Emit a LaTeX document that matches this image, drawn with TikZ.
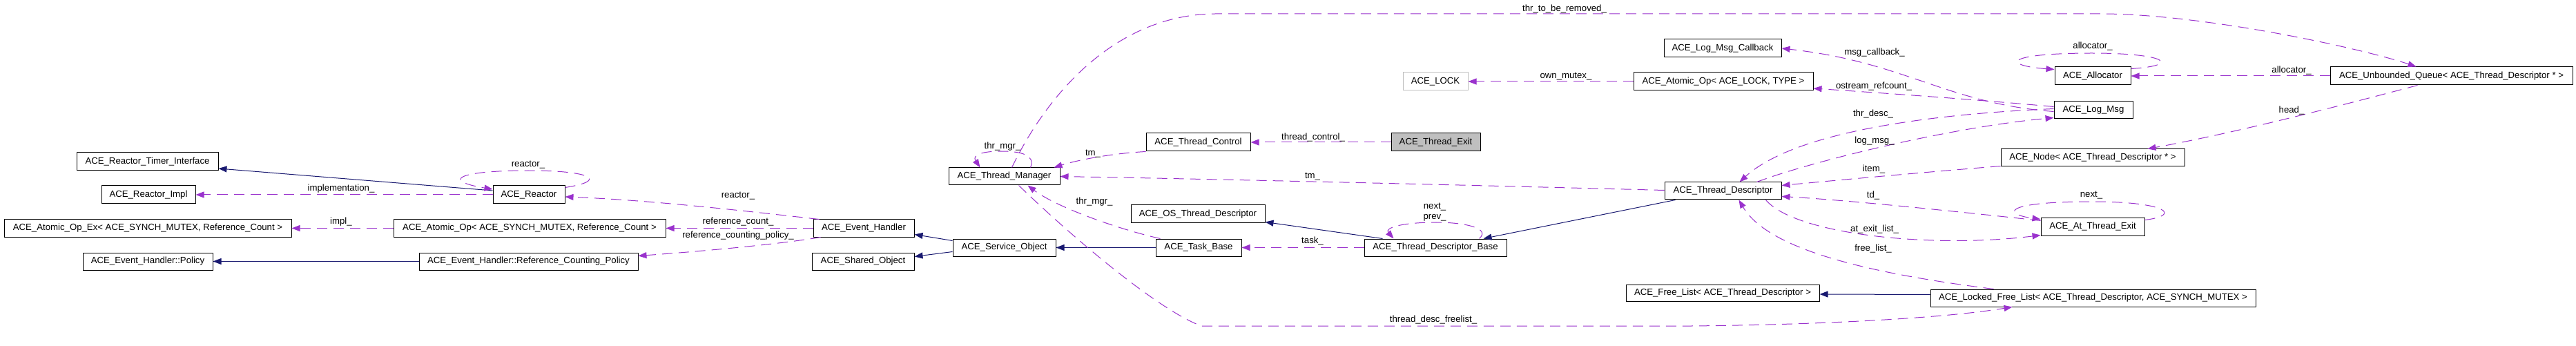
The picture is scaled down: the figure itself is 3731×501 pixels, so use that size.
\documentclass[tikz,border=0pt]{standalone}
\usepackage{fontspec}
\setmainfont{Liberation Sans}
\usetikzlibrary{arrows.meta,calc}
\definecolor{inhblue}{HTML}{191970}
\definecolor{usepurple}{HTML}{9A32CD}
\definecolor{lightgry}{HTML}{BFBFBF}
\tikzset{
 box/.style={draw=black, line width=1bp, fill=white, inner sep=0pt, font=\fontsize{13.2bp}{15bp}\selectfont},
 lbl/.style={inner sep=0pt, font=\fontsize{13.2bp}{15bp}\selectfont},
 inhedge/.style={draw=inhblue, line width=1bp, -{Triangle[length=12bp,width=9bp]}},
 useedge/.style={draw=usepurple, line width=1bp, dash pattern=on 15bp off 9bp, -{Triangle[length=12bp,width=9bp]}},
}
\newcommand\cbox[7][]{\node[box,#1,minimum width={(#5-#3)*1bp},minimum height={(#6-#4)*1bp}] (#2) at ({(#3+#5)/2},{(#4+#6)/2}) {#7};}
\begin{document}
\begin{tikzpicture}[x=1bp,y=-1bp]
\useasboundingbox (0,0) rectangle (3731,501);
% nodes
\cbox{RTI}{111}{221}{316}{247}{ACE\_Reactor\_Timer\_Interface}
\cbox{RImpl}{147}{269}{283}{295}{ACE\_Reactor\_Impl}
\cbox{AOEx}{6}{318}{422}{343}{ACE\_Atomic\_Op\_Ex< ACE\_SYNCH\_MUTEX, Reference\_Count >}
\cbox{Policy}{120}{366}{308}{391}{ACE\_Event\_Handler::Policy}
\cbox{Reactor}{714}{269}{818}{295}{ACE\_Reactor}
\cbox{AO}{570}{318}{964}{343}{ACE\_Atomic\_Op< ACE\_SYNCH\_MUTEX, Reference\_Count >}
\cbox{RCP}{607}{366}{924}{391}{ACE\_Event\_Handler::Reference\_Counting\_Policy}
\cbox{EH}{1178}{318}{1324}{343}{ACE\_Event\_Handler}
\cbox{SO}{1176}{366}{1324}{391}{ACE\_Shared\_Object}
\cbox{TM}{1374}{243}{1535}{268}{ACE\_Thread\_Manager}
\cbox{SvcO}{1380}{346}{1529}{371}{ACE\_Service\_Object}
\cbox{TC}{1660}{193}{1811}{219}{ACE\_Thread\_Control}
\cbox{OSTD}{1638}{297}{1832}{323}{ACE\_OS\_Thread\_Descriptor}
\cbox{TB}{1674}{346}{1798}{371}{ACE\_Task\_Base}
\cbox[fill=lightgry]{TE}{2015}{193}{2144}{219}{ACE\_Thread\_Exit}
\cbox[draw=lightgry]{LOCK}{2032}{105}{2126}{131}{ACE\_LOCK}
\cbox{TDB}{1976}{346}{2182}{371}{ACE\_Thread\_Descriptor\_Base}
\cbox{LMC}{2410}{57}{2580}{83}{ACE\_Log\_Msg\_Callback}
\cbox{AOLT}{2366}{105}{2626}{131}{ACE\_Atomic\_Op< ACE\_LOCK, TYPE >}
\cbox{TD}{2411}{264}{2580}{289}{ACE\_Thread\_Descriptor}
\cbox{FL}{2355}{412}{2635}{436}{ACE\_Free\_List< ACE\_Thread\_Descriptor >}
\cbox{Alloc}{2976}{97}{3086}{123}{ACE\_Allocator}
\cbox{LM}{2975}{147}{3089}{172}{ACE\_Log\_Msg}
\cbox{Node}{2898}{216}{3164}{241}{ACE\_Node< ACE\_Thread\_Descriptor * >}
\cbox{ATE}{2956}{316}{3106}{341}{ACE\_At\_Thread\_Exit}
\cbox{LFL}{2796}{419}{3267}{444}{ACE\_Locked\_Free\_List< ACE\_Thread\_Descriptor, ACE\_SYNCH\_MUTEX >}
\cbox{UQ}{3375}{97}{3726}{123}{ACE\_Unbounded\_Queue< ACE\_Thread\_Descriptor * >}
% inheritance edges
\draw[inhedge] ($(Reactor.west)+(0,-6)$) -- ($(RTI.east)+(0,10)$);
\draw[inhedge] (RCP.west) -- (Policy.east);
\draw[inhedge] ($(SvcO.west)+(0,-10)$) -- ($(EH.east)+(0,9)$);
\draw[inhedge] ($(SvcO.west)+(0,6)$) -- ($(SO.east)+(0,-7)$);
\draw[inhedge] (TB.west) -- (SvcO.east);
\draw[inhedge] ($(TDB.north west)+(27,0)$) -- ($(OSTD.south east)+(0,-2)$);
\draw[inhedge] ($(TD.south west)+(16,0)$) -- ($(TDB.north east)+(-34,0)$);
\draw[inhedge] ($(LFL.west)+(0,-5)$) -- ($(FL.east)+(0,2)$);
% usage edges
\draw[useedge] (Reactor.west) -- (RImpl.east);
\node[lbl] (l1) at (494,273) {implementation\_};
\draw[useedge] ($(Reactor.north east)+(0,3)$) .. controls (880,262) and (860,247) .. (765,247) .. controls (660,247) and (640,262) .. ($(Reactor.west)+(0,-8)$);
\node[lbl] (l2) at (765,239) {reactor\_};
\draw[useedge] (AO.west) -- (AOEx.east);
\node[lbl] (l3) at (494,321) {impl\_};
\draw[useedge] ($(EH.north west)+(9,0)$) .. controls (1100,308) and (950,290) .. ($(Reactor.east)+(0,3)$);
\node[lbl] (l4) at (1069,284) {reactor\_};
\draw[useedge] (EH.west) -- (AO.east);
\node[lbl] (l5) at (1069,321) {reference\_count\_};
\draw[useedge] ($(EH.south west)+(11,0)$) .. controls (1120,355) and (1000,365) .. ($(RCP.east)+(0,-8)$);
\node[lbl] (l6) at (1069,341) {reference\_counting\_policy\_};
% Thread manager self loop
\draw[useedge] ($(TM.north west)+(119,0)$) .. controls (1500,225) and (1480,219) .. (1450,219) .. controls (1420,219) and (1408,225) .. ($(TM.north west)+(46,0)$);
\node[lbl] (l7) at (1452,212) {thr\_mgr\_};
\draw[useedge] ($(TM.north west)+(92,0)$) .. controls (1520,130) and (1620,21) .. (1760,20) -- (3050,20) .. controls (3200,22) and (3420,70) .. ($(UQ.north west)+(125,0)$);
\node[lbl] (l8) at (2266,13) {thr\_to\_be\_removed\_};
\draw[useedge] (TC.south west) .. controls (1610,222) and (1560,232) .. ($(TM.north east)+(-9,0)$);
\node[lbl] (l9) at (1583,223) {tm\_};
\draw[useedge] (TE.west) -- (TC.east);
\node[lbl] (l10) at (1902,199) {thread\_control\_};
\draw[useedge] ($(TD.west)+(0,-1)$) .. controls (2200,270) and (1800,260) .. (TM.east);
\node[lbl] (l11) at (1901,256) {tm\_};
\draw[useedge] ($(TB.north west)+(7,0)$) .. controls (1620,332) and (1530,300) .. ($(TM.south west)+(115,0)$);
\node[lbl] (l12) at (1585,292) {thr\_mgr\_};
\draw[useedge] (TDB.west) -- (TB.east);
\node[lbl] (l13) at (1901,349) {task\_};
\draw[useedge] ($(TDB.north east)+(-40,0)$) .. controls (2160,330) and (2120,322) .. (2080,322) .. controls (2030,322) and (2005,330) .. ($(TDB.north west)+(43,0)$);
\node[lbl] (l14) at (2078,300) {next\_};
\node[lbl] (l15) at (2078,315) {prev\_};
\draw[useedge] ($(TM.south west)+(102,0)$) .. controls (1560,350) and (1680,450) .. (1740,472) -- (2450,472) .. controls (2650,470) and (2820,460) .. ($(LFL.south west)+(119,0)$);
\node[lbl] (l16) at (2076,463) {thread\_desc\_freelist\_};
\draw[useedge] (AOLT.west) -- (LOCK.east);
\node[lbl] (l17) at (2268,111) {own\_mutex\_};
\draw[useedge] ($(LM.west)+(0,2)$) .. controls (2820,150) and (2760,90) .. (LMC.east);
\node[lbl] (l18) at (2715,76) {msg\_callback\_};
\draw[useedge] ($(LM.west)+(0,-5)$) .. controls (2850,143) and (2700,133) .. ($(AOLT.east)+(0,10)$);
\node[lbl] (l19) at (2714,125) {ostream\_refcount\_};
\draw[useedge] ($(LM.west)+(0,-2)$) .. controls (2800,165) and (2600,190) .. ($(TD.north west)+(109,0)$);
\node[lbl] (l20) at (2713,165) {thr\_desc\_};
\draw[useedge] ($(TD.north west)+(134,0)$) .. controls (2620,235) and (2820,185) .. ($(LM.south west)+(0,-2)$);
\node[lbl] (l21) at (2715,204) {log\_msg\_};
\draw[useedge] ($(Node.south west)+(0,-1)$) .. controls (2780,250) and (2650,262) .. ($(TD.east)+(0,-8)$);
\node[lbl] (l22) at (2714,245) {item\_};
\draw[useedge] ($(Alloc.north east)+(0,3)$) .. controls (3160,95) and (3140,77) .. (3030,77) .. controls (2900,77) and (2900,95) .. ($(Alloc.north west)+(0,4)$);
\node[lbl] (l23) at (3031,67) {allocator\_};
\draw[useedge] (UQ.west) -- (Alloc.east);
\node[lbl] (l24) at (3319,102) {allocator\_};
\draw[useedge] ($(UQ.south west)+(127,0)$) .. controls (3420,145) and (3250,190) .. ($(Node.north east)+(-54,0)$);
\node[lbl] (l25) at (3319,160) {head\_};
\draw[useedge] ($(ATE.north west)+(0,4)$) .. controls (2850,308) and (2680,290) .. ($(TD.east)+(0,8)$);
\node[lbl] (l26) at (2713,283) {td\_};
\draw[useedge] ($(TD.south west)+(147,0)$) .. controls (2600,340) and (2800,360) .. ($(ATE.south west)+(0,-1)$);
\node[lbl] (l27) at (2715,332) {at\_exit\_list\_};
\draw[useedge] ($(ATE.north east)+(0,3)$) .. controls (3160,312) and (3140,292) .. (3030,292) .. controls (2900,292) and (2900,310) .. ($(ATE.north west)+(0,2)$);
\node[lbl] (l28) at (3029,283) {next\_};
\draw[useedge] ($(LFL.north west)+(92,0)$) .. controls (2700,395) and (2560,360) .. ($(TD.south west)+(108,0)$);
\node[lbl] (l29) at (2713,360) {free\_list\_};
\end{tikzpicture}
\end{document}
